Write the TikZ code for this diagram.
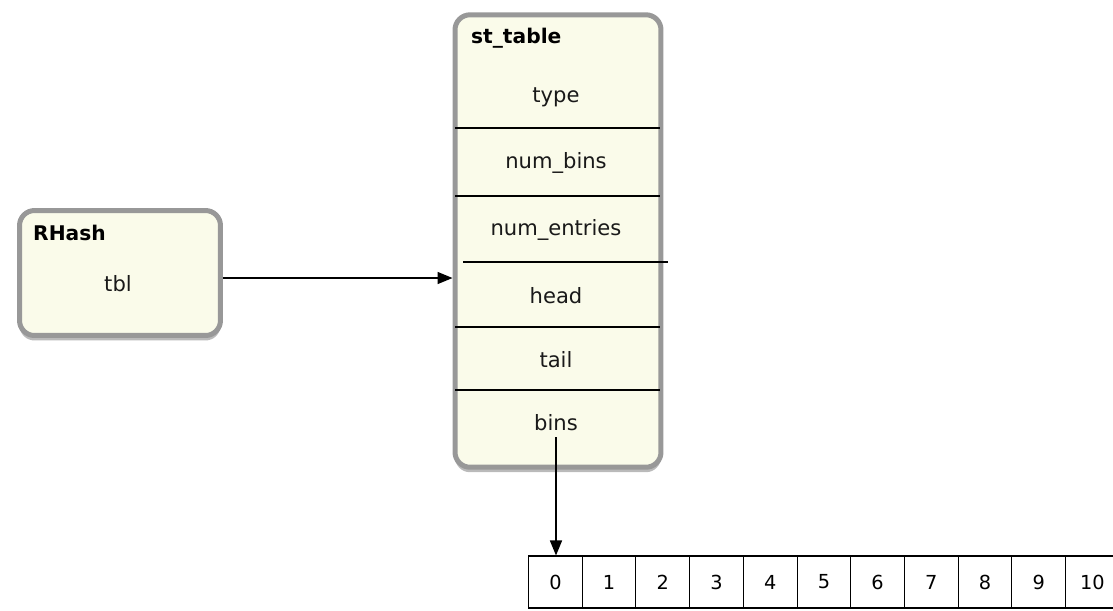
\documentclass[tikz,border=0pt]{standalone}
\usepackage{fontspec}
\setmainfont{DejaVu Sans}
\usepackage{tikz}
\usetikzlibrary{positioning, shapes, arrows.meta, calc, shadows}
\definecolor{boxfill}{RGB}{250,251,234}
\definecolor{boxedge}{RGB}{152,152,152}

\begin{document}
\begin{tikzpicture}[
    x=0.02cm, y=-0.02cm,
    box/.style = {draw=boxedge, line width=0.1cm, fill=boxfill, rounded corners=0.3cm,
                  drop shadow={shadow xshift=0cm, shadow yshift=-0.1cm, opacity=0.45, fill=black!60}},
    field/.style = {font=\fontsize{12}{14}\selectfont, text=black!90},
    title/.style = {font=\fontsize{11.5}{14}\selectfont\bfseries, anchor=west},
    cell/.style = {draw, line width=0.6pt, minimum width=1.074cm, minimum height=1.04cm,
                   inner sep=0pt, font=\fontsize{11}{12}\selectfont},
    sep/.style = {line width=0.8pt},
    arr/.style = {-{Triangle[length=0.3cm, width=0.24cm]}, line width=0.8pt}
]
\useasboundingbox (0,0) rectangle (1113,610);

% RHash struct
\node[box, minimum width=4.02cm, minimum height=2.5cm] (rhash) at (120,273) {};
\node[title] (rhashname) at (27,233) {RHash};
\node[field] (tbl) at (118,284) {tbl};

% st_table struct
\node[box, minimum width=4.12cm, minimum height=9.05cm] (sttable) at (558,241) {};
\node[title] (sttablename) at (465,38) {st\_table};
\foreach \name/\txt/\y in {type/type/97, numbins/num\_bins/163, numentries/num\_entries/230,
                           head/head/296, tail/tail/360, bins/bins/423}
    \node[field] (\name) at (556,\y) {\txt};

\foreach \y in {128,196,327,390}
    \draw[sep] (455,\y) -- (660,\y);
\draw[sep] (463,262) -- (668,262);

% bins array
\foreach \i in {0,...,10}
    \node[cell] (c\i) at ({555.4+53.7*\i},582) {\i};

% pointers
\coordinate (tblout) at ($(rhash.east)+(0,5)$);
\draw[arr] (tblout) -- (tblout -| sttable.west);
\draw[arr] (bins.south) -- (bins.south |- c0.north);

\end{tikzpicture}
\end{document}
